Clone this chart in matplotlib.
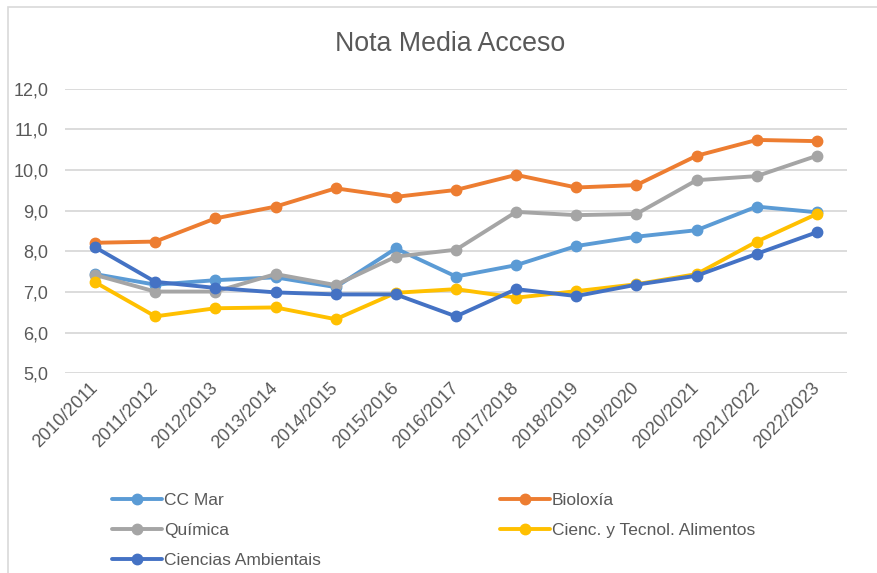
import matplotlib
matplotlib.use("Agg")
import matplotlib.pyplot as plt
from matplotlib.patches import Rectangle

plt.rcParams['font.family'] = ['Liberation Sans', 'DejaVu Sans']

years = ["2010/2011", "2011/2012", "2012/2013", "2013/2014", "2014/2015",
         "2015/2016", "2016/2017", "2017/2018", "2018/2019", "2019/2020",
         "2020/2021", "2021/2022", "2022/2023"]

cc_mar = [7.44, 7.18, 7.29, 7.36, 7.12, 8.07, 7.38, 7.66, 8.13, 8.36, 8.52, 9.10, 8.96]
bioloxia = [8.21, 8.24, 8.81, 9.10, 9.55, 9.34, 9.51, 9.88, 9.57, 9.63, 10.35, 10.74, 10.71]
quimica = [7.42, 7.01, 7.01, 7.44, 7.17, 7.87, 8.04, 8.97, 8.89, 8.92, 9.75, 9.85, 10.35]
alimentos = [7.24, 6.40, 6.60, 6.62, 6.33, 6.98, 7.07, 6.86, 7.02, 7.19, 7.44, 8.24, 8.92]
ambientais = [8.10, 7.25, 7.10, 6.99, 6.94, 6.94, 6.40, 7.07, 6.90, 7.18, 7.40, 7.94, 8.47]

series_names = ["CC Mar", "Bioloxía", "Química", "Cienc. y Tecnol. Alimentos", "Ciencias Ambientais"]
series_vals = [cc_mar, bioloxia, quimica, alimentos, ambientais]
colors = ["#5B9BD5", "#ED7D31", "#A5A5A5", "#FFC000", "#4472C4"]

yticks = [5, 6, 7, 8, 9, 10, 11, 12]
ytick_labels = ["5,0", "6,0", "7,0", "8,0", "9,0", "10,0", "11,0", "12,0"]

W, H = 878, 573
fig = plt.figure(figsize=(W / 100, H / 100), dpi=100)
ax = fig.add_axes([65 / W, 1 - 373.3 / H, (847 - 65) / W, (373.3 - 88.7) / H])

x = list(range(len(years)))
handles = []
for name, vals, c in zip(series_names, series_vals, colors):
    h, = ax.plot(x, vals, color=c, lw=2.8, marker='o', markersize=7.5,
                 label=name, clip_on=False, solid_capstyle='round', zorder=3)
    handles.append(h)

ax.set_xlim(-0.5, len(years) - 0.5)
ax.set_ylim(5, 12)
ax.set_yticks(yticks)
ax.set_yticklabels(ytick_labels)
ax.set_xticks(x)
ax.set_xticklabels(years, rotation=45, ha='right', va='center', rotation_mode='anchor')
ax.grid(axis='y', color='#D9D9D9', lw=1.3, zorder=0)
ax.set_axisbelow(True)
for s in ax.spines.values():
    s.set_visible(False)
ax.tick_params(axis='both', length=0, colors='#595959', labelsize=13)
ax.tick_params(axis='y', pad=12)
ax.tick_params(axis='x', pad=9)

# chart border
fig.add_artist(Rectangle((8 / W, -0.1), 1.2, 1 - 7 / H + 0.1, transform=fig.transFigure,
                         fill=False, edgecolor='#D9D9D9', lw=1.2))

fig.text(450 / W, 1 - 44 / H, "Nota Media Acceso", ha='center', va='center',
         fontsize=19.3, color='#595959')

# legend: left column and right column
left_idx = [0, 2, 4]
right_idx = [1, 3]
common = dict(frameon=False, loc='upper left', borderaxespad=0, borderpad=0,
              handlelength=2.9, handletextpad=0.1, labelspacing=0.86,
              fontsize=12.5, labelcolor='#595959')
leg1 = fig.legend([handles[i] for i in left_idx], [series_names[i] for i in left_idx],
                  bbox_to_anchor=(112 / W, 1 - 493 / H), **common)
leg2 = fig.legend([handles[i] for i in right_idx], [series_names[i] for i in right_idx],
                  bbox_to_anchor=(500 / W, 1 - 493 / H), **common)

fig.savefig("out.png", dpi=100)
